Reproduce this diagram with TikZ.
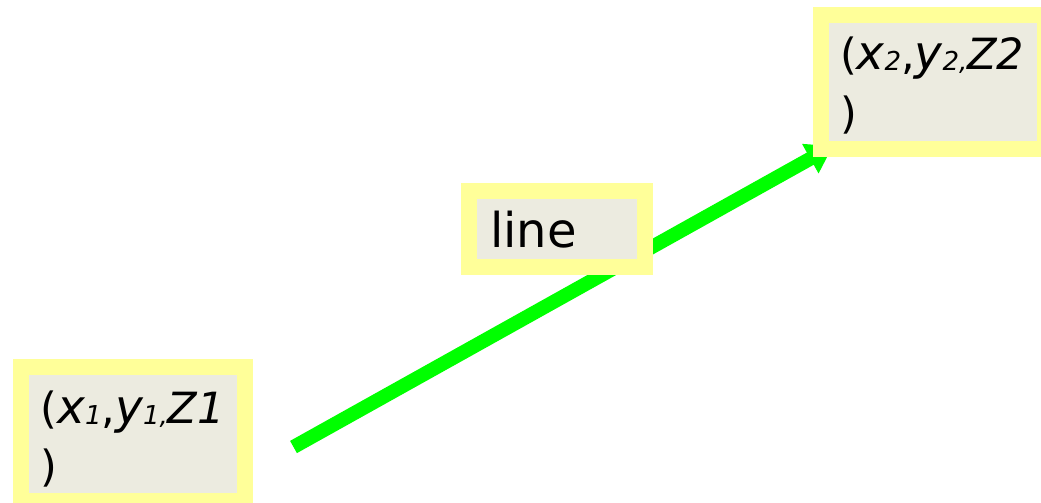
\documentclass[tikz,border=0pt]{standalone}
\usepackage{fontspec}
\setmainfont{DejaVu Sans}
\usetikzlibrary{arrows.meta,calc}
\definecolor{boxyellow}{HTML}{FFFF99}
\definecolor{boxfill}{HTML}{ECEBE0}
\definecolor{arrowgreen}{HTML}{00FF00}
\newcommand{\subtxt}[1]{\raisebox{-1pt}{\fontsize{26}{26}\selectfont\itshape #1}}
\newcommand{\varbig}[1]{{\fontsize{47}{50}\selectfont\itshape #1}}
\newcommand{\mainsz}{\fontsize{43}{50}\selectfont}
\begin{document}
\begin{tikzpicture}[x=1pt,y=-1pt,
  pointbox/.style={rectangle, draw=boxyellow, fill=boxfill, line width=16pt, inner sep=0pt, minimum width=224pt, minimum height=134pt},
  labelbox/.style={rectangle, draw=boxyellow, fill=boxfill, line width=16pt, inner sep=0pt, minimum width=176pt, minimum height=76pt},
  boxtext/.style={anchor=base west, inner sep=0pt, outer sep=0pt, text=black},
  greenarrow/.style={draw=arrowgreen, line width=14pt, -{Triangle[width=32pt,length=26pt]}}]
\useasboundingbox (0,0) rectangle (1041,503);
\fill[white] (0,0) rectangle (1041,503);
% connector (drawn first, so boxes cover it)
\coordinate (start) at (293.5,447);
\coordinate (tip) at (833,146);
\draw[greenarrow] (start) -- (tip);
% boxes
\node[pointbox] (p1) at (133,434) {};
\node[pointbox] (p2) at (933,82) {};
\node[labelbox] (lbl) at (557,229) {};
% texts
\node[boxtext] (p1text) at ($(p1.north west)+(27.5,64)$)
  {\mainsz\vtop{\baselineskip=58.5pt\lineskiplimit=-100pt
   \hbox{(\varbig{x}\subtxt{1},\varbig{y}\subtxt{1,}\textit{Z1}}\hbox{)}}};
\node[boxtext] (p2text) at ($(p2.north west)+(27,63)$)
  {\mainsz\vtop{\baselineskip=58.5pt\lineskiplimit=-100pt
   \hbox{(\varbig{x}\subtxt{2},\varbig{y}\subtxt{2,}\textit{Z2}}\hbox{)}}};
\node[boxtext] (lbltext) at ($(lbl.north west)+(29,64)$)
  {\fontsize{48}{56}\selectfont line};
\end{tikzpicture}
\end{document}
